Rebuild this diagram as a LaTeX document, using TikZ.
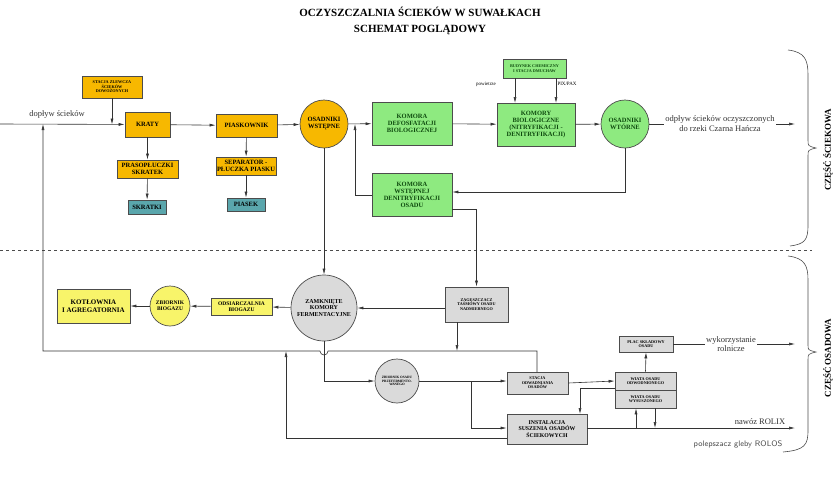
\documentclass[tikz,border=0pt]{standalone}
\usepackage{fontspec}
\setmainfont{Liberation Serif}
\usetikzlibrary{arrows.meta,decorations.pathreplacing}
\definecolor{cor}{HTML}{F7B800}
\definecolor{cgr}{HTML}{8EEA80}
\definecolor{cte}{HTML}{5AA6AC}
\definecolor{cgy}{HTML}{DADADA}
\definecolor{cye}{HTML}{F8F46A}
\definecolor{dgr}{HTML}{0E4A0E}
\begin{document}
\begin{tikzpicture}[x=1pt,y=-1pt,
  box/.style 2 args={draw=black!70,line width=0.7pt,minimum width=#1,minimum height=#2,inner sep=1pt,align=center,font=\fontsize{6.5}{7}\selectfont\bfseries},
  circ/.style={circle,draw=black!70,line width=0.7pt,inner sep=0pt,minimum size=#1,align=center,font=\fontsize{6.5}{7}\selectfont\bfseries},
  tiny/.style={font=\fontsize{4.2}{4.6}\selectfont\bfseries},
  ar/.style={-{Latex[length=6pt,width=3pt]},line width=0.6pt,black!80},
  ln/.style={line width=0.6pt,black!80},
  lab/.style={font=\fontsize{8.5}{9.5}\selectfont,text=black!80,align=center}]
\useasboundingbox (0,0) rectangle (840,480);
\node[font=\fontsize{11}{12}\selectfont\bfseries] (t1) at (420,12) {OCZYSZCZALNIA ŚCIEKÓW W SUWAŁKACH};
\node[font=\fontsize{11}{12}\selectfont\bfseries] (t2) at (420,30) {SCHEMAT POGLĄDOWY};
% upper part
\coordinate (in) at (0,124);
\node[box={60}{22},fill=cor,tiny] (szl) at (112,87) {STACJA ZLEWCZA\\ŚCIEKÓW\\DOWOŻONYCH};
\node[box={45}{25},fill=cor] (krat) at (147.5,124.5) {KRATY};
\node[box={61}{23},fill=cor] (pias) at (246.5,125.5) {PIASKOWNIK};
\node[circ=48,fill=cor] (osw) at (324,124) {OSADNIKI\\WSTĘPNE};
\node[box={80}{43},fill=cgr,text=dgr] (def) at (412,123.5) {KOMORA\\DEFOSFATACJI\\BIOLOGICZNEJ};
\node[box={78}{43},fill=cgr,text=dgr] (bio) at (536,124.5) {KOMORY\\BIOLOGICZNE\\(NITRYFIKACJI -\\DENITRYFIKACJI)};
\node[box={63}{19},fill=cgr,text=dgr,tiny] (bud) at (534.5,68.5) {BUDYNEK CHEMICZNY\\I STACJA DMUCHAW};
\node[circ=48,fill=cgr,text=dgr] (owt) at (625,124) {OSADNIKI\\WTÓRNE};
\node[box={61}{18},fill=cor] (pras) at (147.5,169) {PRASOPŁUCZKI\\SKRATEK};
\node[box={38}{14},fill=cte] (skr) at (147,207) {SKRATKI};
\node[box={60}{18},fill=cor] (sep) at (246,166) {SEPARATOR -\\PŁUCZKA PIASKU};
\node[box={38}{13},fill=cte] (psk) at (246,204.5) {PIASEK};
\node[box={80}{43},fill=cgr,text=dgr] (wst) at (412,194.5) {KOMORA\\WSTĘPNEJ\\DENITRYFIKACJI\\OSADU};
\node[lab,anchor=south] (dop) at (57,122) {dopływ ścieków};
\node[font=\fontsize{5}{5.5}\selectfont] (pow) at (486,84) {powietrze};
\node[font=\fontsize{5}{5.5}\selectfont] (pix) at (567,84) {PIX/PAX};
\coordinate (out) at (795,124);
\draw[ar] (in) -- (krat);
\draw[ar] (szl.south) -- (szl.south|-krat.west);
\draw[ar] (krat) -- (pias);
\draw[ar] (pias) -- (osw);
\draw[ar] (osw) -- (def);
\draw[ar] (def) -- (bio);
\draw[ar] (bio) -- (owt);
\draw[ar] (owt) -- (out);
\node[lab,fill=white,inner sep=1pt] (odp) at (720,123.5) {odpływ ścieków oczyszczonych\\do rzeki Czarna Hańcza};
\draw[ar] (515,78) -- (515,103);
\draw[ar] (556,78) -- (556,103);
\draw[ar] (krat) -- (pras);
\draw[ar] (pras) -- (skr);
\draw[ar] (pias) -- (sep);
\draw[ar] (sep) -- (psk);
\draw[ar] (owt.south) |- (wst.east|-0,192);
\draw[ar] (wst.west|-0,195) -| (355,124);
% dashed divider
\draw[dashed,line width=0.7pt,black!70] (0,250) -- (812,250);
% braces
\draw[line width=0.6pt,black!70] (788,50) .. controls (805,52) and (808,60) .. (808,75) -- (808,140) .. controls (808,146) .. (816,148) .. controls (808,150) .. (808,156) -- (808,225) .. controls (808,240) and (805,244) .. (790,246);
\node[rotate=90,font=\fontsize{9}{10}\selectfont\bfseries] (cs) at (828,150) {CZĘŚĆ ŚCIEKOWA};
\draw[line width=0.6pt,black!70] (788,256) .. controls (805,258) and (808,266) .. (808,280) -- (808,345) .. controls (808,350) .. (816,352) .. controls (808,354) .. (808,360) -- (808,430) .. controls (808,445) and (805,450) .. (783,452);
\node[rotate=90,font=\fontsize{9}{10}\selectfont\bfseries] (co) at (828,358) {CZĘŚĆ OSADOWA};
% lower part
\node[circ=66,fill=cgy,font=\fontsize{6}{6.5}\selectfont\bfseries] (zam) at (324,308) {ZAMKNIĘTE\\KOMORY\\FERMENTACYJNE};
\node[box={63}{35},fill=cgy,tiny] (zag) at (476.5,304.5) {ZAGĘSZCZACZ\\TAŚMOWY OSADU\\NADMIERNEGO};
\node[box={61}{17},fill=cye,font=\fontsize{5.5}{6}\selectfont\bfseries] (ods) at (241.5,306.5) {ODSIARCZALNIA\\BIOGAZU};
\node[circ=40,fill=cye,font=\fontsize{5.5}{6}\selectfont\bfseries] (zbb) at (170,306) {ZBIORNIK\\BIOGAZU};
\node[box={73}{34},fill=cye,font=\fontsize{7}{7.5}\selectfont\bfseries] (kot) at (93.5,306) {KOTŁOWNIA\\I AGREGATORNIA};
\node[circ=44,fill=cgy,font=\fontsize{3.4}{3.8}\selectfont\bfseries] (zbp) at (397,381) {ZBIORNIK OSADU\\PRZEFERMENTO-\\WANEGO};
\node[box={61}{22},fill=cgy,tiny] (sto) at (537.5,383) {STACJA\\ODWADNIANIA\\OSADÓW};
\node[box={61}{18},fill=cgy,tiny] (wo) at (645.5,381) {WIATA OSADU\\ODWODNIONEGO};
\node[box={61}{18},fill=cgy,tiny] (ww) at (645.5,399) {WIATA OSADU\\WYSUSZONEGO};
\node[box={54}{16},fill=cgy,tiny] (plac) at (646,344) {PLAC SKŁADOWY\\OSADU};
\node[box={80}{30},fill=cgy,font=\fontsize{5.8}{6.3}\selectfont\bfseries] (ins) at (547,429) {INSTALACJA\\SUSZENIA OSADÓW\\ŚCIEKOWYCH};
\draw[ar] (osw) -- (zam);
\draw[ar] (wst.east|-0,209) -| (zag.north);
\draw[ar] (zag.west|-zam.east) -- (zam.east);
\draw[ar] (zam) -- (ods);
\draw[ar] (ods) -- (zbb);
\draw[ar] (zbb) -- (kot);
% return line
\coordinate (r1) at (43,124);
\draw[ar] (537,372) -- (537,351) -- (328,351) arc (0:180:4) -- (43,351) -- (r1);
\draw[ar] (zag.south-|457,0) -- (457,351);
\draw[ar] (ins.west|-0,438) -| (286,351);
\draw[ar] (zam.south) |- (zbp.west);
\draw[ar] (zbp.east) -- (sto.west|-zbp.east);
\draw[ar] (471,381) |- (ins.west|-0,428);
\draw[ar] (sto.east) -- (wo.west);
\draw[ar] (wo.north) -- (plac.south);
\coordinate (o2) at (795,344);
\draw[ar] (plac.east) -- (o2);
\node[lab,fill=white,inner sep=1pt] (wyk) at (731,344) {wykorzystanie\\rolnicze};
\draw[ar] (wo.west|-0,388) -| (580,414);
\coordinate (o3) at (795,428);
\draw[ar] (ins.east|-0,428) -- (o3);
\draw[ar] (636,428) -- (ww.south-|636,0);
\draw[ar] (655,408) -- (655,428);
\node[lab,anchor=south] (rol) at (760,428) {nawóz ROLIX};
\node[font=\sffamily\fontsize{8}{9}\selectfont,text=black!70] (ros) at (738,444) {polepszacz gleby ROLOS};
\end{tikzpicture}
\end{document}
